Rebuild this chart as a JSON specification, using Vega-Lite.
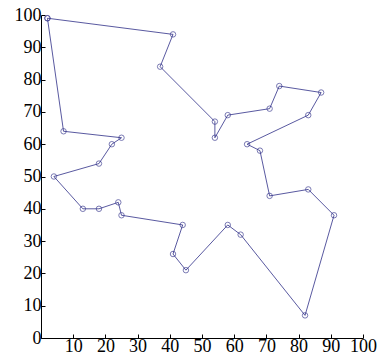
{
  "$schema": "https://vega.github.io/schema/vega-lite/v6.json",
  "autosize": "none",
  "width": 322,
  "height": 323,
  "padding": {"left": 41, "top": 15, "right": 15, "bottom": 22},
  "background": "white",
  "config": {
    "view": {"stroke": null},
    "axis": {
      "grid": false,
      "domainColor": "#000000",
      "domainWidth": 1,
      "tickColor": "#000000",
      "tickSize": -4,
      "labelFont": "Liberation Serif",
      "labelFontSize": 18,
      "labelColor": "#000000",
      "labelFlush": false,
      "labelOverlap": false
    }
  },
  "data": {
    "values": [
      {"order": 1, "x": 2, "y": 99},
      {"order": 2, "x": 41, "y": 94},
      {"order": 3, "x": 37, "y": 84},
      {"order": 4, "x": 54, "y": 67},
      {"order": 5, "x": 54, "y": 62},
      {"order": 6, "x": 58, "y": 69},
      {"order": 7, "x": 71, "y": 71},
      {"order": 8, "x": 74, "y": 78},
      {"order": 9, "x": 87, "y": 76},
      {"order": 10, "x": 83, "y": 69},
      {"order": 11, "x": 64, "y": 60},
      {"order": 12, "x": 68, "y": 58},
      {"order": 13, "x": 71, "y": 44},
      {"order": 14, "x": 83, "y": 46},
      {"order": 15, "x": 91, "y": 38},
      {"order": 16, "x": 82, "y": 7},
      {"order": 17, "x": 62, "y": 32},
      {"order": 18, "x": 58, "y": 35},
      {"order": 19, "x": 45, "y": 21},
      {"order": 20, "x": 41, "y": 26},
      {"order": 21, "x": 44, "y": 35},
      {"order": 22, "x": 25, "y": 38},
      {"order": 23, "x": 24, "y": 42},
      {"order": 24, "x": 18, "y": 40},
      {"order": 25, "x": 13, "y": 40},
      {"order": 26, "x": 4, "y": 50},
      {"order": 27, "x": 18, "y": 54},
      {"order": 28, "x": 22, "y": 60},
      {"order": 29, "x": 25, "y": 62},
      {"order": 30, "x": 7, "y": 64},
      {"order": 31, "x": 2, "y": 99}
    ]
  },
  "encoding": {
    "x": {
      "field": "x", "type": "quantitative",
      "scale": {"domain": [0, 100], "nice": false},
      "axis": {"title": null, "values": [0,10,20,30,40,50,60,70,80,90,100], "labelExpr": "datum.value == 0 ? '' : datum.label", "labelPadding": 3}
    },
    "y": {
      "field": "y", "type": "quantitative",
      "scale": {"domain": [0, 100], "nice": false},
      "axis": {"title": null, "values": [0,10,20,30,40,50,60,70,80,90,100], "labelPadding": 4}
    }
  },
  "layer": [
    {
      "mark": {"type": "line", "color": "#2e2e88", "strokeWidth": 0.8},
      "encoding": {"order": {"field": "order", "type": "quantitative"}}
    },
    {
      "mark": {"type": "point", "shape": "circle", "filled": false, "color": "#2e2e88", "size": 30, "strokeWidth": 0.9}
    }
  ]
}
